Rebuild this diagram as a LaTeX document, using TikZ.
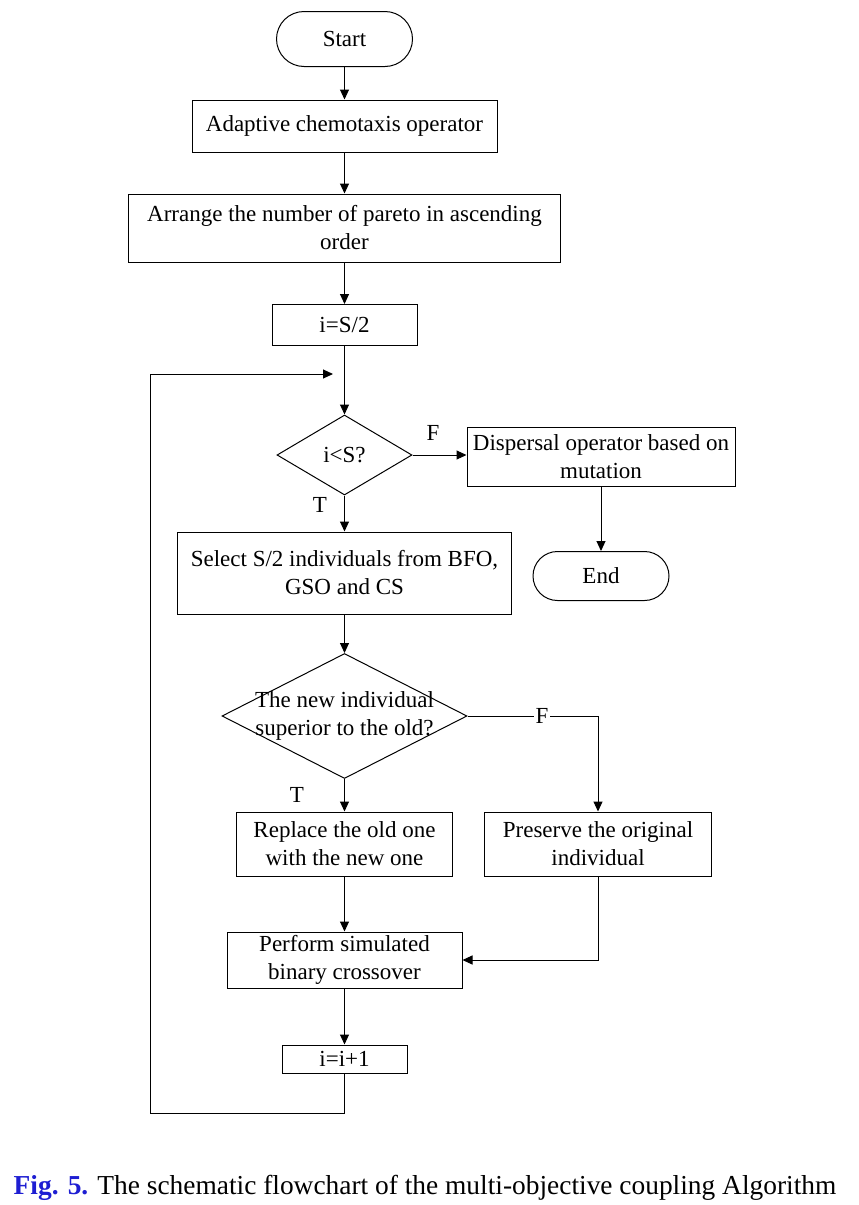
\documentclass[tikz,border=0pt]{standalone}
\usepackage{fontspec}
\setmainfont{Liberation Serif}
\usetikzlibrary{shapes.geometric,arrows.meta}
\definecolor{capblue}{RGB}{30,30,210}
\begin{document}
\begin{tikzpicture}[x=0.5pt,y=-0.5pt,
  every node/.style={font=\fontsize{11.5}{14}\selectfont, inner sep=0pt},
  proc/.style={draw, line width=0.5pt, rectangle, align=center},
  term/.style={draw, line width=0.5pt, rectangle, align=center},
  decision/.style={draw, line width=0.5pt, diamond, inner sep=0pt},
  lbl/.style={font=\fontsize{11.5}{14}\selectfont},
  arr/.style={-{Triangle[length=5pt,width=4.5pt]}, line width=0.5pt},
  ln/.style={line width=0.5pt}]
\useasboundingbox (0,0) rectangle (858,1205);

\node[term, rounded corners=13.75pt, minimum width=68pt, minimum height=27.5pt] (start) at (344.5,39) {Start};
\node[proc, minimum width=152.5pt, minimum height=26pt] (adapt) at (344.5,126) {Adaptive chemotaxis operator};
\node[proc, minimum width=216pt, minimum height=34pt] (arrange) at (344.5,228) {Arrange the number of pareto in ascending\\order};
\node[proc, minimum width=72.5pt, minimum height=20.5pt] (is2) at (344.5,325) {i=S/2};
\node[decision, minimum width=67.5pt, minimum height=40pt] (d1) at (344.5,455) {};
\node[lbl] (d1t) at (344.5,455) {i<S?};
\node[proc, minimum width=134pt, minimum height=29.5pt] (disp) at (601,457) {Dispersal operator based on\\mutation};
\node[term, rounded corners=12.25pt, minimum width=68pt, minimum height=24.5pt] (end) at (601,576) {End};
\node[proc, minimum width=167pt, minimum height=41pt] (select) at (344.5,573) {Select S/2 individuals from BFO,\\GSO and CS};
\node[decision, minimum width=122.5pt, minimum height=62.5pt] (d2) at (344.5,716) {};
\node[lbl, align=center] (d2t) at (344.5,716) {The new individual\\superior to the old?};
\node[proc, minimum width=108pt, minimum height=32pt] (replace) at (344.5,844) {Replace the old one\\with the new one};
\node[proc, minimum width=113.5pt, minimum height=32pt] (preserve) at (598,844) {Preserve the original\\individual};
\node[proc, minimum width=117.5pt, minimum height=28pt] (perform) at (344.5,960) {Perform simulated\\binary crossover};
\node[proc, minimum width=62.5pt, minimum height=14pt] (inc) at (344.5,1059) {i=i+1};

\coordinate (loopbr) at (344.5,1113);
\coordinate (loopbl) at (150,1113);
\coordinate (loopend) at (333,374);

\draw[arr] (start) -- (adapt);
\draw[arr] (adapt) -- (arrange);
\draw[arr] (arrange) -- (is2);
\draw[arr] (is2) -- (d1);
\draw[arr] (d1.east) -- (d1.east -| disp.west);
\node[lbl] (fl1) at (433,433) {F};
\draw[arr] (disp) -- (end);
\draw[arr] (d1) -- (select);
\node[lbl] (tl1) at (320,505) {T};
\draw[arr] (select) -- (d2);
\draw[arr] (d2.east) -| (preserve.north);
\node[lbl, fill=white, inner sep=1pt] (fl2) at (542,716) {F};
\draw[arr] (d2) -- (replace);
\node[lbl] (tl2) at (297,795) {T};
\draw[arr] (replace) -- (perform);
\draw[arr] (preserve.south) |- (perform.east);
\draw[arr] (perform) -- (inc);
\draw[arr] (inc.south) -- (loopbr) -- (loopbl) |- (loopend);

\node (cap) at (425,1188) {\fontsize{13.7}{16}\selectfont\textcolor{capblue}{\textbf{Fig. 5.}} The schematic flowchart of the multi-objective coupling Algorithm};
\end{tikzpicture}
\end{document}
